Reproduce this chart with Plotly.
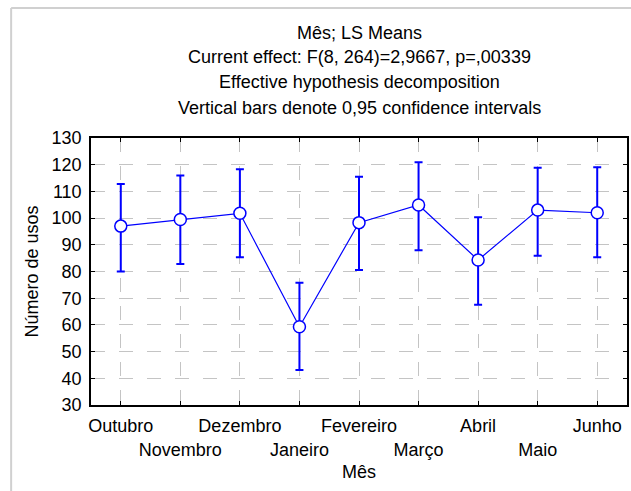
import plotly.graph_objects as go

months = ["Outubro", "Novembro", "Dezembro", "Janeiro", "Fevereiro",
          "Março", "Abril", "Maio", "Junho"]
means = [97.0, 99.5, 101.8, 59.3, 98.3, 104.9, 84.3, 103.0, 102.0]
upper = [112.8, 116.0, 118.3, 75.8, 115.5, 120.9, 100.3, 118.9, 119.0]
lower = [80.0, 82.8, 85.3, 43.1, 80.6, 88.0, 67.5, 85.9, 85.3]
title_lines = ["Mês; LS Means",
               "Current effect: F(8, 264)=2,9667, p=,00339",
               "Effective hypothesis decomposition",
               "Vertical bars denote 0,95 confidence intervals"]
y_ticks = list(range(30, 131, 10))

x = list(range(len(months)))
err_plus = [u - m for u, m in zip(upper, means)]
err_minus = [m - l for m, l in zip(means, lower)]
ticktext = [m if i % 2 == 0 else "<br>" + m for i, m in enumerate(months)]

BLUE = "#0000ff"
FONT = "Liberation Sans"

fig = go.Figure()
fig.add_trace(go.Scatter(
    x=x, y=means, mode="lines+markers",
    line=dict(color=BLUE, width=1.2),
    marker=dict(symbol="circle", size=12, color="white",
                line=dict(color=BLUE, width=1.5)),
    error_y=dict(type="data", symmetric=False, array=err_plus,
                 arrayminus=err_minus, color=BLUE, thickness=2, width=4),
    showlegend=False,
))

grid = dict(showgrid=True, gridcolor="#c4c4c4", gridwidth=1, griddash="14px,14px")

fig.update_xaxes(
    range=[-0.5, 8.5], tickmode="array", tickvals=x, ticktext=ticktext,
    tickangle=0, automargin=False, ticklabelstandoff=4,
    showline=True, linecolor="black", linewidth=1.5, mirror="ticks",
    ticks="inside", ticklen=4, tickcolor="black", zeroline=False,
    tickfont=dict(family=FONT, size=18, color="black"),
    title=dict(text="Mês", font=dict(family=FONT, size=18, color="black"), standoff=7),
    **grid,
)
fig.update_yaxes(
    range=[30, 130], tickmode="array", tickvals=y_ticks, automargin=False,
    ticklabelstandoff=4,
    showline=True, linecolor="black", linewidth=1.5, mirror="ticks",
    ticks="inside", ticklen=4, tickcolor="black", zeroline=False,
    tickfont=dict(family=FONT, size=18, color="black"),
    title=dict(text="Número de usos", font=dict(family=FONT, size=18, color="black"), standoff=8),
    **grid,
)

ys = [1.393, 1.303, 1.208, 1.114]
for t, yy in zip(title_lines, ys):
    fig.add_annotation(text=t, xref="paper", yref="paper", x=0.5, y=yy,
                       xanchor="center", yanchor="middle", showarrow=False,
                       font=dict(family=FONT, size=18, color="black"))

# outer light frame (left and top edges)
fig.add_shape(type="line", xref="paper", yref="paper",
              x0=-0.149, x1=-0.149, y0=-0.6, y1=1.487,
              line=dict(color="#d0d0d0", width=2), layer="below")
fig.add_shape(type="line", xref="paper", yref="paper",
              x0=-0.149, x1=1.0075, y0=1.487, y1=1.487,
              line=dict(color="#d0d0d0", width=2), layer="below")

fig.update_layout(
    width=631, height=491,
    margin=dict(l=91, r=4, t=138, b=86),
    paper_bgcolor="white", plot_bgcolor="white",
    font=dict(family=FONT, color="black"),
)

fig.write_html("out.html")
